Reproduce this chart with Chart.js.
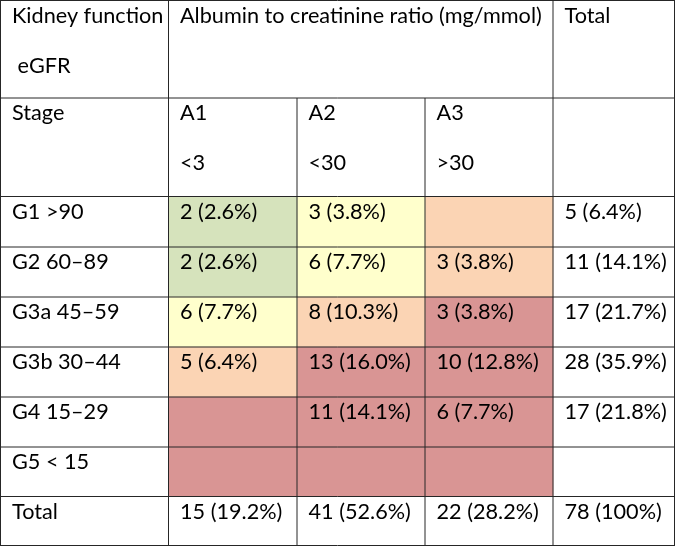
<!DOCTYPE html>
<html>
<head>
<meta charset="utf-8">
<script src="https://cdn.jsdelivr.net/npm/chart.js@4.4.0/dist/chart.umd.min.js"></script>
<style>
  body { margin: 0; background: #fff; }
  #wrap { width: 676px; height: 547px; }
</style>
</head>
<body>
<div id="wrap"><canvas id="myChart" width="676" height="547"></canvas></div>
<script>
// datos de la tabla
const stages = ['G1 >90', 'G2 60–89', 'G3a 45–59', 'G3b 30–44', 'G4 15–29', 'G5 < 15'];
const albCats = ['A1', 'A2', 'A3'];
const albRanges = ['<3', '<30', '>30'];
const counts = [[2, 3, null], [2, 6, 3], [6, 8, 3], [5, 13, 10], [null, 11, 6], [null, null, null]];
const pcts = [[2.6, 3.8, null], [2.6, 7.7, 3.8], [7.7, 10.3, 3.8], [6.4, 16.0, 12.8], [null, 14.1, 7.7], [null, null, null]];
const rowTotals = [5, 11, 17, 28, 17, null];
const rowTotalPcts = [6.4, 14.1, 21.7, 35.9, 21.8, null];
const colTotals = [15, 41, 22];
const colTotalPcts = [19.2, 52.6, 28.2];
const grandTotal = 78;
const grandTotalPct = '100%';
// nivel de riesgo de cada celda (0 verde, 1 amarillo, 2 naranja, 3 rojo)
const risk = [[0, 1, 2], [0, 1, 2], [1, 2, 3], [2, 3, 3], [3, 3, 3], [3, 3, 3]];

// layout
const riskColors = ['#D6E3BC', '#FFFFCC', '#FBD4B4', '#D99594'];
const colEdges = [0.5, 168.5, 297, 425, 553, 674.5];
const rowEdges = [0.5, 98, 196.5, 247, 297, 347, 397, 447, 496.5, 545.5];
const headerRows = 2;
const lineColor = '#262626';
const fontFamily = 'Lato, "Open Sans", sans-serif';

function fmt(n, p) {
  if (n === null) return '';
  return n + ' (' + (typeof p === 'string' ? p : p.toFixed(1) + '%') + ')';
}

// un dataset por columna A1..A3, barras flotantes por fila
const datasets = albCats.map(function (cat, c) {
  return {
    label: cat,
    data: stages.map(function (s, r) {
      return { x: (colEdges[c + 1] + colEdges[c + 2]) / 2, y: [rowEdges[r + headerRows], rowEdges[r + headerRows + 1]] };
    }),
    backgroundColor: stages.map(function (s, r) { return riskColors[risk[r][c]]; }),
    barThickness: colEdges[c + 2] - colEdges[c + 1],
    borderWidth: 0,
    grouped: false
  };
});

const tablePlugin = {
  id: 'tablePlugin',
  beforeDraw: function (chart) {
    const ctx = chart.ctx;
    ctx.save();
    ctx.fillStyle = '#fff';
    ctx.fillRect(0, 0, chart.width, chart.height);
    ctx.restore();
  },
  afterDatasetsDraw: function (chart) {
    const ctx = chart.ctx;
    const xs = chart.scales.x, ys = chart.scales.y;
    const X = function (v) { return xs.getPixelForValue(v); };
    const Y = function (v) { return ys.getPixelForValue(v); };

    ctx.save();
    // lineas de la tabla
    ctx.strokeStyle = lineColor;
    ctx.lineWidth = 1;
    rowEdges.forEach(function (y) {
      ctx.beginPath();
      ctx.moveTo(X(colEdges[0]) - 0.5, Y(y));
      ctx.lineTo(X(colEdges[colEdges.length - 1]) + 0.5, Y(y));
      ctx.stroke();
    });
    colEdges.forEach(function (x, i) {
      const top = (i === 2 || i === 3) ? rowEdges[1] : rowEdges[0];
      ctx.beginPath();
      ctx.moveTo(X(x), Y(top));
      ctx.lineTo(X(x), Y(rowEdges[rowEdges.length - 1]));
      ctx.stroke();
    });

    // ajustar tamaño de letra al ancho del encabezado
    const header = 'Albumin to creatinine ratio (mg/mmol)';
    ctx.font = '20px ' + fontFamily;
    const size = 20 * 362 / ctx.measureText(header).width;
    ctx.font = size.toFixed(2) + 'px ' + fontFamily;
    ctx.fillStyle = '#000';
    ctx.textBaseline = 'alphabetic';
    ctx.textAlign = 'left';

    const put = function (text, col, row, line) {
      if (!text) return;
      ctx.fillText(text, X(colEdges[col]) + 11.5, Y(rowEdges[row]) + 22 + (line || 0) * 50);
    };

    put('Kidney function', 0, 0);
    put(' eGFR', 0, 0, 1);
    put(header, 1, 0);
    put('Total', 4, 0);
    put('Stage', 0, 1);
    albCats.forEach(function (a, c) {
      put(a, c + 1, 1);
      put(albRanges[c], c + 1, 1, 1);
    });
    stages.forEach(function (s, r) {
      const row = r + headerRows;
      put(s, 0, row);
      counts[r].forEach(function (n, c) { put(fmt(n, pcts[r][c]), c + 1, row); });
      put(fmt(rowTotals[r], rowTotalPcts[r]), 4, row);
    });
    const last = headerRows + stages.length;
    put('Total', 0, last);
    colTotals.forEach(function (n, c) { put(fmt(n, colTotalPcts[c]), c + 1, last); });
    put(fmt(grandTotal, grandTotalPct), 4, last);
    ctx.restore();
  }
};

var ctx = document.getElementById('myChart');
var myChart = new Chart(ctx, {
  type: 'bar',
  data: { datasets: datasets },
  options: {
    responsive: false,
    animation: false,
    layout: { padding: 0 },
    plugins: { legend: { display: false }, tooltip: { enabled: false } },
    scales: {
      x: { type: 'linear', min: 0, max: 676, offset: false, display: false },
      y: { type: 'linear', min: 0, max: 547, reverse: true, display: false }
    }
  },
  plugins: [tablePlugin]
});
</script>
</body>
</html>
